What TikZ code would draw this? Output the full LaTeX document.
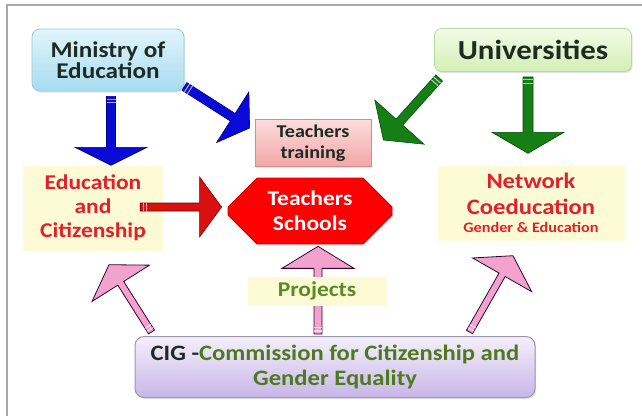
\documentclass[tikz,border=0pt]{standalone}
\usepackage{fontspec}
\setmainfont[FakeStretch=1.12]{Carlito}
\usetikzlibrary{calc,shapes.misc,shadows}

\definecolor{frame}{HTML}{A8A8A8}
\definecolor{darktext}{HTML}{1E2A22}
\definecolor{redtext}{HTML}{E3202A}
\definecolor{greentext}{HTML}{558C24}
\definecolor{cigtext}{HTML}{4E7A1E}
\definecolor{paleyellow}{HTML}{FDFBD6}
\definecolor{arrowblue}{HTML}{0A0AD6}
\definecolor{arrowgreen}{HTML}{157E15}
\definecolor{arrowred}{HTML}{DA1010}
\definecolor{arrowpink}{HTML}{F2A3CD}
\definecolor{bluetop}{HTML}{E2F5FC}
\definecolor{bluebot}{HTML}{A6DBF1}
\definecolor{blueline}{HTML}{96CADF}
\definecolor{greentop}{HTML}{F3FBE6}
\definecolor{greenbot}{HTML}{D2EFB4}
\definecolor{greenline}{HTML}{B9D9A2}
\definecolor{pinktop}{HTML}{FCDDDD}
\definecolor{pinkbot}{HTML}{F2A6A6}
\definecolor{pinkline}{HTML}{D38C8C}
\definecolor{lilactop}{HTML}{F4EFFB}
\definecolor{lilacbot}{HTML}{C8B6E8}
\definecolor{lilacline}{HTML}{9C98AC}

\tikzset{
  softshadow/.style={drop shadow={opacity=0.22,shadow xshift=1.2pt,shadow yshift=-1.5pt}},
  bluebox/.style={rounded corners=8pt, top color=bluetop, bottom color=bluebot, draw=blueline, line width=0.8pt, softshadow},
  greenbox/.style={rounded corners=7pt, top color=greentop, bottom color=greenbot, draw=greenline, line width=0.8pt, softshadow},
  pinkbox/.style={top color=pinktop, bottom color=pinkbot, draw=pinkline, line width=0.8pt, softshadow},
  lilacbox/.style={rounded corners=9pt, top color=lilactop, bottom color=lilacbot, draw=lilacline, line width=1pt, softshadow},
  notebox/.style={fill=paleyellow, draw=none},
  octbox/.style={chamfered rectangle, chamfered rectangle xsep=16pt, chamfered rectangle ysep=13pt, fill=red, draw=red!80!black, line width=0.8pt, inner sep=0pt, softshadow},
  arrblue/.style={fill=arrowblue, draw=blue!50!black, line width=0.6pt},
  arrgreen/.style={fill=arrowgreen, draw=green!30!black, line width=0.6pt},
  arrred/.style={fill=arrowred, draw=red!45!black, line width=0.6pt},
  arrpink/.style={fill=arrowpink, draw=violet!40!black, line width=0.8pt},
  tailstripe/.style={draw=white, opacity=0.65, line width=1.1pt},
}

% block arrow: #1 style, #2 tail, #3 tip, #4 shaft half width, #5 head half width, #6 head length
\newcommand\blockarrow[6]{%
  \coordinate (ba-t) at #2;
  \coordinate (ba-p) at #3;
  \coordinate (ba-h) at ($(ba-p)!#6!(ba-t)$);
  \draw[#1, line join=miter]
    ($(ba-t)!#4!90:(ba-p)$) -- ($(ba-h)!#4!90:(ba-p)$) --
    ($(ba-h)!#5!90:(ba-p)$) -- (ba-p) --
    ($(ba-h)!#5!-90:(ba-p)$) -- ($(ba-h)!#4!-90:(ba-p)$) --
    ($(ba-t)!#4!-90:(ba-p)$) -- cycle;
  \coordinate (ba-s1) at ($(ba-t)!3pt!(ba-p)$);
  \coordinate (ba-s2) at ($(ba-t)!6.5pt!(ba-p)$);
  \draw[tailstripe] ($(ba-s1)!#4!90:(ba-p)$) -- ($(ba-s1)!#4!-90:(ba-p)$);
  \draw[tailstripe] ($(ba-s2)!#4!90:(ba-p)$) -- ($(ba-s2)!#4!-90:(ba-p)$);
}

\begin{document}
\begin{tikzpicture}[x=1pt, y=-1pt, every node/.style={font=\bfseries, align=center, inner sep=0pt}]
\useasboundingbox (0,0) rectangle (642,416);
\fill[white] (0,0) rectangle (642,416);

% outer frame
\draw[frame, line width=1.5pt] (7,416) -- (7,5) -- (642,5);

% boxes
\node[bluebox, minimum width=152pt, minimum height=62pt, text=darktext,
      font={\fontsize{22.5}{21}\selectfont\bfseries}] (min) at (108,60) {Ministry of\\Education};
\node[greenbox, minimum width=197pt, minimum height=43pt, text=darktext,
      font={\fontsize{27.5}{30}\selectfont\bfseries}] (uni) at (533,50) {Universities};
\node[pinkbox, minimum width=116pt, minimum height=47pt, text=darktext,
      font={\fontsize{18}{21}\selectfont\bfseries}] (tt) at (313,143) {Teachers\\training};
\node[octbox, minimum width=164pt, minimum height=63pt, text=white,
      font={\fontsize{21}{25}\selectfont\bfseries}] (ts) at (310,211) {Teachers\\Schools};
\node[notebox, minimum width=140pt, minimum height=85pt, text=redtext,
      font={\fontsize{21}{24}\selectfont\bfseries}] (ec) at (93,208) {Education\\and\\Citizenship};
\node[notebox, minimum width=187pt, minimum height=75pt, text=redtext,
      font={\fontsize{22}{26}\selectfont\bfseries}] (net) at (531,203)
      {Network\\Coeducation\\[-8pt]{\fontsize{14.5}{16}\selectfont Gender \& Education}};
\node[lilacbox, minimum width=400pt, minimum height=61pt, text=cigtext,
      font={\fontsize{22}{25}\selectfont\bfseries}] (cig) at (335,367)
      {\textcolor{darktext}{CIG -}Commission for Citizenship and\\Gender Equality};

% connectors
\blockarrow{arrblue}{($(min.south)+(3,5)$)}{($(ec.north)+(18,0)$)}{4.5pt}{36pt}{18pt}
\blockarrow{arrblue}{($(min.south east)+(0,-5)$)}{($(tt.west)+(-5,-15)$)}{4.5pt}{30pt}{20pt}
\blockarrow{arrgreen}{($(uni.south west)+(5,6)$)}{($(tt.east)+(12,-3)$)}{4.5pt}{33pt}{24pt}
\blockarrow{arrgreen}{($(uni.south)+(-5,5)$)}{($(net.north)+(-3,-12)$)}{5pt}{36pt}{21pt}
\blockarrow{arrred}{($(ec.east)+(-23,-1)$)}{($(ts.west)+(-6,-4)$)}{4pt}{30pt}{22pt}
\blockarrow{arrpink}{($(cig.north west)+(17,-4)$)}{($(ec.south)+(16,14)$)}{3.5pt}{34pt}{22pt}
\blockarrow{arrpink}{($(cig.north east)+(-66,-4)$)}{($(net.south)+(-18,15)$)}{3.5pt}{34pt}{22pt}
\blockarrow{arrpink}{($(cig.north)+(-17,-2)$)}{($(ts.south)+(8,2)$)}{4pt}{36pt}{22pt}

% projects label over the middle shaft
\node[notebox, minimum width=139pt, minimum height=29pt, text=greentext,
      font={\fontsize{21}{24}\selectfont\bfseries}] (proj) at (317,291) {Projects};
\end{tikzpicture}
\end{document}
